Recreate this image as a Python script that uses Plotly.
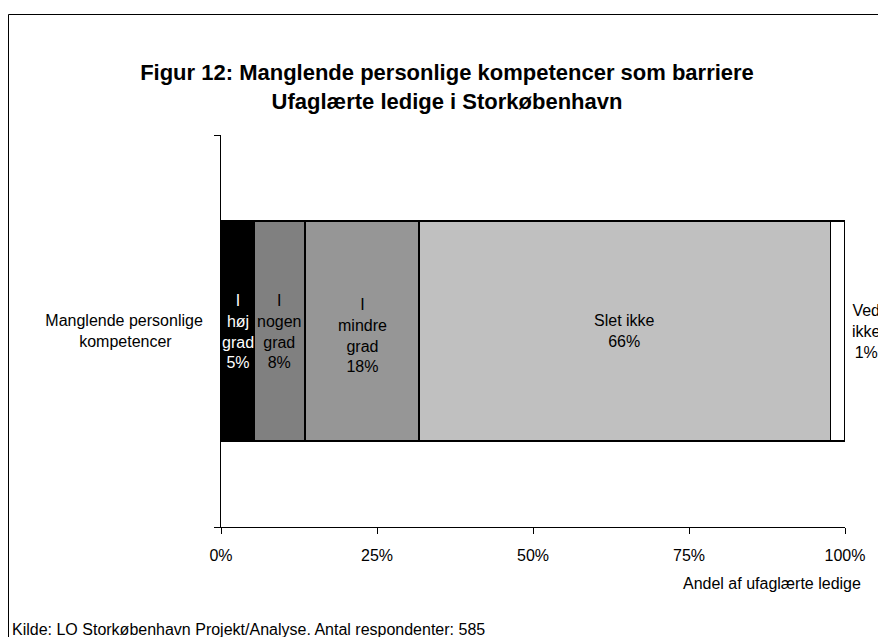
import numpy as np
import plotly.graph_objects as go

# data
category = ["Manglende personlige<br>kompetencer"]
category_text = ["Manglende personlige<br>kompetencer" + "\u00a0" * 7]  # centred look
segments = ["I høj grad", "I nogen grad", "I mindre grad", "Slet ikke", "Ved ikke"]
shares = [5.4, 8.1, 18.2, 66.0, 2.3]
share_labels = ["I<br>høj<br>grad<br>5%", "I<br>nogen<br>grad<br>8%", "I<br>mindre<br>grad<br>18%",
                "Slet ikke<br>66%", "Ved<br>ikke<br>1%"]
colors = ["#000000", "#808080", "#969696", "#C0C0C0", "#FFFFFF"]
label_colors = ["white", "black", "black", "black", "black"]
x_ticks = [0, 25, 50, 75, 100]

W, H = 878, 637
L, R, T, B = 221, 33, 135, 110
pw, ph = W - L - R, H - T - B

def px_x(p):  # pixel -> paper x
    return (p - L) / pw

def px_y(p):  # pixel -> paper y
    return (H - B - p) / ph

fig = go.Figure()
for name, v, c in zip(segments, shares, colors):
    fig.add_trace(go.Bar(x=[v], y=category, name=name, orientation="h",
                         marker=dict(color=c, line=dict(color="black", width=1.5))))

ends = np.cumsum(shares)
mids = ends - np.array(shares) / 2
for i, (m, txt, tc) in enumerate(zip(mids, share_labels, label_colors)):
    if i == len(shares) - 1:
        # last label spills over the right edge like in the original
        fig.add_annotation(x=ends[i], y=0, text=txt, showarrow=False, xanchor="left",
                           xshift=5, align="center", font=dict(color=tc))
    else:
        fig.add_annotation(x=m, y=0, text=txt, showarrow=False, align="center",
                           font=dict(color=tc), yshift=-4 if i == 2 else 0)

fig.add_annotation(xref="paper", yref="paper", x=1, xshift=18, y=px_y(583),
                   text="Andel af ufaglærte ledige", showarrow=False, xanchor="right",
                   yanchor="middle")
fig.add_annotation(xref="paper", yref="paper", x=px_x(10), y=px_y(629),
                   text="Kilde: LO Storkøbenhavn Projekt/Analyse. Antal respondenter: 585",
                   showarrow=False, xanchor="left", yanchor="middle")

# outer chart border
fig.add_shape(type="rect", xref="paper", yref="paper", x0=px_x(8.5), x1=px_x(900),
              y0=px_y(660), y1=px_y(14.5), line=dict(color="black", width=1), layer="below")

fig.update_layout(
    width=W, height=H, barmode="stack", bargap=0.44, showlegend=False,
    plot_bgcolor="white", paper_bgcolor="white",
    margin=dict(l=L, r=R, t=T, b=B),
    font=dict(family="Liberation Sans, Arial, sans-serif", size=16, color="black"),
    title=dict(text="<b>Figur 12: Manglende personlige kompetencer som barriere<br>Ufaglærte ledige i Storkøbenhavn</b>",
               x=447 / W, xanchor="center", y=1 - 80 / H, yanchor="middle",
               font=dict(size=22, color="black")),
)
fig.update_xaxes(range=[0, 100], tickvals=x_ticks, ticktext=[f"{t}%" for t in x_ticks],
                 showline=True, linecolor="black", linewidth=1, ticks="outside", ticklen=6,
                 tickcolor="black", showgrid=False, zeroline=False, ticklabelstandoff=8)
fig.update_yaxes(tickvals=category, ticktext=category_text,
                 showline=True, linecolor="black", linewidth=1, ticks="outside", ticklen=6,
                 tickcolor="black", tickson="boundaries", showgrid=False, ticklabelstandoff=14)

# drop the page's default body margin so the chart sits at the window's corner
fig.write_html("out.html", config={"displayModeBar": False},
               post_script="document.body.style.margin='0';")
